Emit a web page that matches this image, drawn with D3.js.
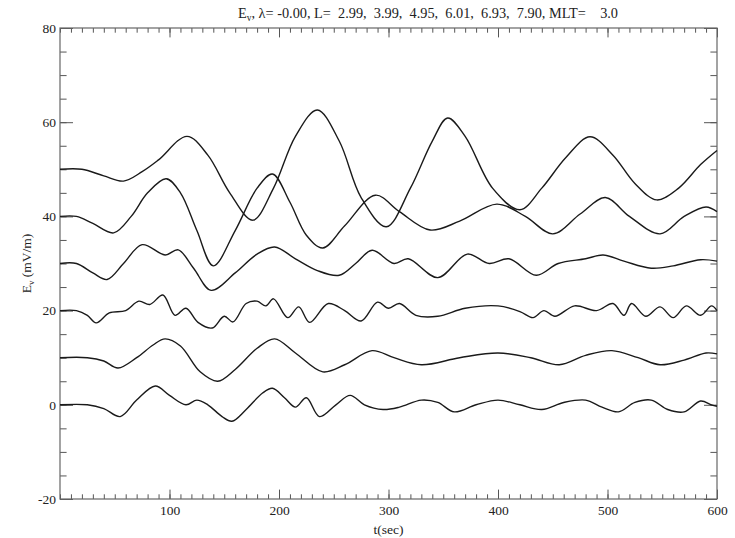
<!DOCTYPE html>
<html>
<head>
<meta charset="utf-8">
<script src="https://cdn.jsdelivr.net/npm/d3@7"></script>
<style>
  body { margin: 0; background: #fff; }
  text { font-family: "Liberation Serif", "DejaVu Serif", serif; fill: #222; }
</style>
</head>
<body>
<script>
// E_v at six L-shells, each shifted by 10 mV/m
var lValues = ["2.99", "3.99", "4.95", "6.01", "6.93", "7.90"];
var mlt = "3.0";

var curve0 = [[0,0],[25,0],[40,-0.8],[55,-2.5],[70,1],[87,4],[100,2],[115,0],[125,1],[135,0],[148,-2.5],[157,-3.5],[170,-1],[185,2.5],[194,3.5],[205,1.5],[215,-0.5],[225,1.5],[237,-2.5],[252,0],[265,2],[278,0],[295,-1],[310,-0.5],[330,1],[345,0.5],[360,-1.5],[380,0],[400,1],[420,0],[440,-1],[460,0.5],[480,1],[495,-0.5],[510,-1.5],[525,0.5],[540,1],[555,-1],[570,-1.5],[585,0.8],[595,0],[600,-0.3]];
var curve10 = [[0,10],[25,10],[40,9.3],[53,7.8],[70,10],[85,12.7],[96,14],[110,12.5],[128,7],[144,5],[160,7.5],[180,12],[196,14],[215,11],[240,7],[260,8.5],[285,11.5],[305,10],[330,8.5],[365,10],[400,11],[430,10],[456,8.5],[480,10.5],[504,11.5],[528,10],[548,8.5],[570,9.5],[590,11],[600,10.8]];
var curve20 = [[0,20],[15,20],[25,19],[33,17.4],[45,19.5],[60,20],[72,22],[82,21.3],[94,23.3],[105,19],[115,20.5],[126,17.5],[139,16.3],[150,18.8],[158,17.6],[170,21.5],[180,22],[188,21],[195,22.5],[208,18.5],[218,20.8],[228,17.5],[245,21.5],[260,20],[275,17.8],[290,21.8],[300,20.5],[310,21.5],[325,19],[345,18.8],[370,20.5],[400,21],[420,19.8],[432,18.5],[442,20],[452,18.8],[470,21],[490,20],[505,21.5],[515,19],[522,21.5],[535,18.8],[548,20.8],[560,18.5],[572,21],[585,19],[595,21],[600,20]];
var curve30 = [[0,30],[15,30],[30,28],[43,26.6],[58,30],[75,34],[96,31.8],[108,32.9],[122,29],[138,24.3],[160,28],[180,32],[196,33.5],[215,31],[235,28.5],[255,27.5],[270,30],[285,32.8],[305,30],[318,31],[345,27],[372,32],[392,30],[410,31],[435,27.5],[455,30],[480,31],[496,31.8],[515,30.5],[540,29],[560,29.5],[585,30.8],[600,30.5]];
var curve40 = [[0,40],[15,40],[30,38.5],[49,36.5],[65,40],[80,45],[97,48],[110,45],[125,37],[140,29.5],[160,37],[180,46],[194,49],[210,43],[225,36],[240,33.3],[260,38],[288,44.5],[310,41],[338,37.1],[365,39],[399,42.6],[425,40],[450,36.3],[475,40.5],[498,44],[520,40],[548,36.3],[570,40],[590,42],[600,41]];
var curve50 = [[0,50],[20,50],[40,48.6],[58,47.5],[75,49.5],[90,52],[116,57],[135,53],[155,45],[176,39.2],[195,46],[215,57],[235,62.6],[255,56],[275,44],[298,37.8],[320,46],[340,56],[354,60.9],[370,57],[395,46],[420,41.4],[440,46],[462,52.5],[484,56.9],[505,53],[525,47],[545,43.5],[565,46],[585,51],[600,54]];

var allCurves = [curve0, curve10, curve20, curve30, curve40, curve50];

var xMajor = [100, 200, 300, 400, 500, 600];
var yMajor = [-20, 0, 20, 40, 60, 80];

var width = 735, height = 538;
var plotLeft = 60, plotRight = 717, plotTop = 28, plotBottom = 499;

var svg = d3.select("body").append("svg")
    .attr("width", width)
    .attr("height", height);

var x = d3.scaleLinear().domain([0, 600]).range([plotLeft, plotRight]);
var y = d3.scaleLinear().domain([-20, 80]).range([plotBottom, plotTop]);

var xMinor = d3.range(0, 601, 10);
var yMinor = d3.range(-20, 81, 5);

function styleAxis(g) {
    g.select(".domain").remove();
    g.selectAll("line").attr("stroke", "#555");
    g.selectAll("text").attr("font-size", 13.5).attr("fill", "#222")
        .attr("font-family", "Liberation Serif, serif");
}

// minor ticks, all four sides, pointing inwards
svg.append("g").attr("transform", "translate(0," + plotBottom + ")")
    .call(d3.axisBottom(x).tickValues(xMinor).tickSize(-4.7).tickFormat(""))
    .call(styleAxis);
svg.append("g").attr("transform", "translate(0," + plotTop + ")")
    .call(d3.axisTop(x).tickValues(xMinor).tickSize(-4.7).tickFormat(""))
    .call(styleAxis);
svg.append("g").attr("transform", "translate(" + plotLeft + ",0)")
    .call(d3.axisLeft(y).tickValues(yMinor).tickSize(-6.6).tickFormat(""))
    .call(styleAxis);
svg.append("g").attr("transform", "translate(" + plotRight + ",0)")
    .call(d3.axisRight(y).tickValues(yMinor).tickSize(-6.6).tickFormat(""))
    .call(styleAxis);

// major ticks with labels
svg.append("g").attr("transform", "translate(0," + plotBottom + ")")
    .call(d3.axisBottom(x).tickValues(xMajor).tickSize(-9.4).tickPadding(6).tickFormat(d => String(d)))
    .call(styleAxis);
svg.append("g").attr("transform", "translate(0," + plotTop + ")")
    .call(d3.axisTop(x).tickValues(xMajor).tickSize(-9.4).tickFormat(""))
    .call(styleAxis);
svg.append("g").attr("transform", "translate(" + plotLeft + ",0)")
    .call(d3.axisLeft(y).tickValues(yMajor).tickSize(-13).tickPadding(4).tickFormat(d => String(d)))
    .call(styleAxis);
svg.append("g").attr("transform", "translate(" + plotRight + ",0)")
    .call(d3.axisRight(y).tickValues(yMajor).tickSize(-13).tickFormat(""))
    .call(styleAxis);

// frame
svg.append("rect")
    .attr("x", plotLeft).attr("y", plotTop)
    .attr("width", plotRight - plotLeft).attr("height", plotBottom - plotTop)
    .attr("fill", "none").attr("stroke", "#666").attr("stroke-width", 1.2);

var line = d3.line()
    .x(d => x(d[0]))
    .y(d => y(d[1]))
    .curve(d3.curveCatmullRom.alpha(0.5));

svg.append("g").selectAll("path")
    .data(allCurves)
    .join("path")
        .attr("d", line)
        .attr("fill", "none")
        .attr("stroke", "#1a1a1a")
        .attr("stroke-width", 1.4);

// title
var title = svg.append("text")
    .attr("x", 428)
    .attr("y", 18)
    .attr("text-anchor", "middle")
    .attr("font-size", 14.3)
    .style("white-space", "pre");
title.append("tspan").text("E");
title.append("tspan").attr("font-size", 9.5).attr("dy", 3).text("v");
title.append("tspan").attr("dy", -3)
    .text(", \u03bb= -0.00, L=  " + lValues.join(",  ") + ", MLT=    " + mlt);

// axis titles
svg.append("text")
    .attr("x", (plotLeft + plotRight) / 2)
    .attr("y", 534)
    .attr("text-anchor", "middle")
    .attr("font-size", 13.5)
    .text("t(sec)");

var ylab = svg.append("text")
    .attr("transform", "translate(31," + (plotTop + plotBottom) / 2 + ") rotate(-90)")
    .attr("text-anchor", "middle")
    .attr("font-size", 13.5)
    .style("white-space", "pre");
ylab.append("tspan").text("E");
ylab.append("tspan").attr("font-size", 9).attr("dy", 3).text("v");
ylab.append("tspan").attr("dy", -3).text(" (mV/m)");
</script>
</body>
</html>
